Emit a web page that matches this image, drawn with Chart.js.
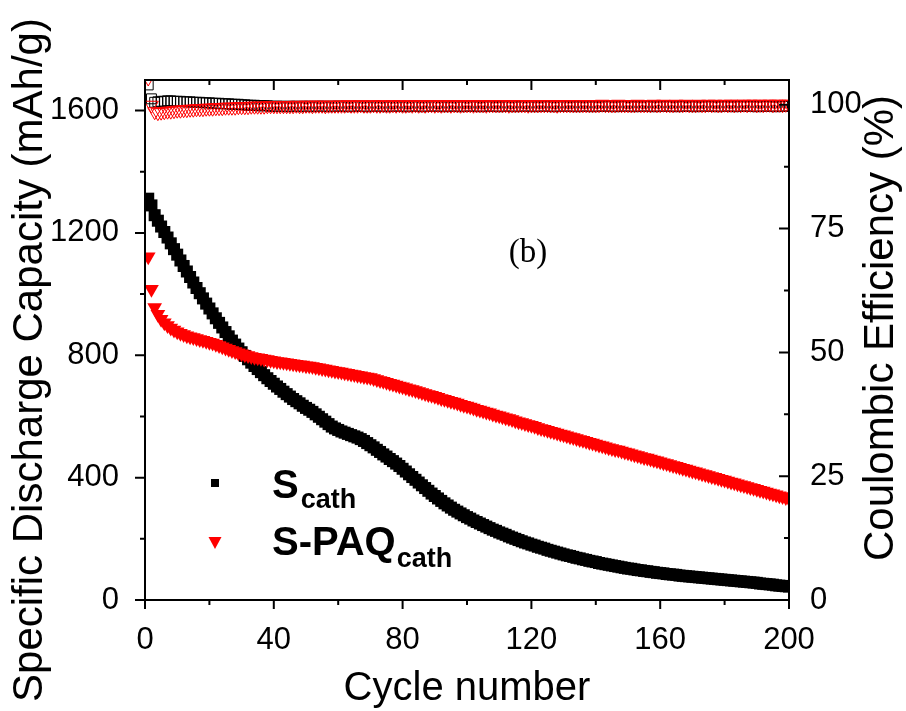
<!DOCTYPE html>
<html>
<head>
<meta charset="utf-8">
<script src="https://cdn.jsdelivr.net/npm/chart.js@4.4.0/dist/chart.umd.min.js"></script>
<style>
  html, body { margin: 0; padding: 0; background: #fff; }
</style>
</head>
<body>
<canvas id="capChart" width="906" height="711"></canvas>
<script>
// cycle numbers (x)
var cycles = Array.from({length: 200}, function (_, i) { return i + 1; });

// discharge capacity, S cathode (mAh/g)
var sCathCap = [
  1312, 1290, 1258, 1240, 1221, 1203, 1185, 1166, 1147, 1129,
  1110, 1092, 1074, 1056, 1038, 1020, 1003, 986, 969, 953,
  937, 921, 906, 891, 876, 862, 848, 835, 822, 810,
  798, 787, 776, 765, 755, 745, 735, 725, 716, 707,
  698, 690, 681, 673, 665, 657, 650, 643, 635, 628,
  622, 615, 607, 599, 591, 583, 575, 567, 561, 556,
  551, 547, 543, 539, 535, 531, 526, 520, 513, 506,
  499, 491, 484, 476, 469, 461, 454, 446, 438, 429,
  420, 411, 402, 393, 384, 375, 366, 357, 348, 340,
  332, 324, 316, 309, 302, 295, 289, 283, 277, 271,
  266, 260, 255, 250, 245, 240, 235, 230, 226, 221,
  217, 213, 208, 204, 200, 196, 192, 188, 185, 181,
  178, 174, 171, 168, 164, 161, 158, 155, 152, 149,
  146, 144, 141, 138, 136, 133, 131, 128, 126, 124,
  121, 119, 117, 115, 113, 111, 109, 107, 105, 103,
  102, 100, 98, 97, 95, 94, 92, 91, 89, 88,
  87, 85, 84, 83, 82, 80, 79, 78, 77, 76,
  75, 74, 73, 72, 71, 70, 69, 68, 67, 66,
  65, 64, 63, 62, 61, 60, 59, 58, 57, 56,
  54, 53, 52, 51, 50, 48, 47, 46, 45, 44
];

// discharge capacity, S-PAQ cathode (mAh/g)
var spaqCap = [
  1122, 1016, 956, 934, 918, 906, 897, 889, 883, 877,
  872, 868, 864, 861, 858, 855, 852, 849, 846, 843,
  840, 836, 832, 828, 824, 820, 816, 812, 808, 805,
  802, 799, 796, 794, 792, 790, 788, 786, 784, 782,
  780, 779, 777, 776, 774, 772, 771, 769, 768, 766,
  765, 763, 761, 759, 757, 755, 753, 751, 749, 747,
  745, 743, 741, 739, 737, 735, 733, 731, 729, 727,
  724, 721, 718, 715, 712, 709, 706, 703, 700, 697,
  694, 691, 688, 685, 682, 678, 675, 672, 669, 666,
  663, 659, 656, 653, 650, 647, 644, 640, 637, 634,
  631, 628, 624, 621, 618, 615, 612, 608, 605, 602,
  599, 596, 593, 590, 586, 583, 580, 577, 574, 571,
  568, 564, 561, 558, 555, 552, 549, 546, 543, 540,
  537, 534, 531, 528, 525, 522, 519, 516, 513, 510,
  507, 504, 501, 498, 495, 492, 490, 487, 484, 481,
  478, 475, 472, 469, 466, 464, 461, 458, 455, 452,
  449, 446, 443, 440, 437, 434, 431, 428, 425, 422,
  419, 416, 413, 410, 407, 404, 401, 398, 395, 392,
  389, 386, 383, 380, 377, 374, 371, 368, 365, 362,
  359, 356, 353, 350, 347, 344, 341, 338, 335, 332
];

// coulombic efficiency, S cathode (%)
var sCathCE = [
  104.0, 101.2, 100.5, 100.6, 100.7, 100.7, 100.8, 100.8, 100.7, 100.7,
  100.7, 100.6, 100.6, 100.6, 100.5, 100.5, 100.5, 100.4, 100.4, 100.4,
  100.3, 100.3, 100.3, 100.2, 100.2, 100.2, 100.1, 100.1, 100.1, 100.0,
  100.0, 99.9, 99.9, 99.9, 99.8, 99.8, 99.8, 99.8, 99.7, 99.7,
  99.7, 99.7, 99.7, 99.6, 99.7, 99.7, 99.7, 99.6, 99.7, 99.7,
  99.7, 99.6, 99.7, 99.7, 99.7, 99.7, 99.6, 99.7, 99.7, 99.7,
  99.7, 99.7, 99.6, 99.7, 99.7, 99.7, 99.7, 99.7, 99.6, 99.7,
  99.7, 99.7, 99.7, 99.7, 99.6, 99.7, 99.7, 99.7, 99.7, 99.7,
  99.6, 99.7, 99.7, 99.7, 99.7, 99.6, 99.7, 99.7, 99.7, 99.7,
  99.7, 99.7, 99.6, 99.7, 99.7, 99.7, 99.7, 99.6, 99.7, 99.7,
  99.7, 99.7, 99.7, 99.6, 99.7, 99.7, 99.7, 99.7, 99.7, 99.6,
  99.7, 99.7, 99.7, 99.7, 99.6, 99.7, 99.7, 99.7, 99.7, 99.7,
  99.6, 99.7, 99.7, 99.7, 99.7, 99.7, 99.6, 99.7, 99.7, 99.7,
  99.7, 99.7, 99.7, 99.6, 99.7, 99.7, 99.7, 99.7, 99.6, 99.7,
  99.7, 99.7, 99.7, 99.7, 99.7, 99.6, 99.7, 99.7, 99.7, 99.7,
  99.7, 99.6, 99.7, 99.7, 99.7, 99.7, 99.7, 99.6, 99.7, 99.7,
  99.7, 99.7, 99.7, 99.7, 99.6, 99.7, 99.7, 99.7, 99.7, 99.7,
  99.6, 99.7, 99.7, 99.7, 99.7, 99.7, 99.7, 99.6, 99.7, 99.7,
  99.7, 99.7, 99.6, 99.7, 99.7, 99.7, 99.7, 99.7, 99.7, 99.6,
  99.7, 99.7, 99.7, 99.7, 99.7, 99.6, 99.7, 99.7, 99.7, 99.7
];

// coulombic efficiency, S-PAQ cathode (%)
var spaqCE = [
  105.4, 99.9, 98.6, 98.4, 98.5, 98.6, 98.7, 98.7, 98.8, 98.9,
  98.9, 99.0, 99.0, 99.1, 99.1, 99.2, 99.2, 99.2, 99.3, 99.3,
  99.3, 99.4, 99.4, 99.4, 99.5, 99.5, 99.5, 99.5, 99.6, 99.6,
  99.6, 99.6, 99.7, 99.7, 99.7, 99.7, 99.7, 99.8, 99.8, 99.8,
  99.8, 99.8, 99.8, 99.8, 99.8, 99.8, 99.9, 99.8, 99.8, 99.9,
  99.9, 99.8, 99.9, 99.9, 99.9, 99.8, 99.9, 99.9, 99.9, 99.9,
  99.9, 99.9, 100.0, 99.9, 99.9, 99.9, 100.0, 99.9, 99.9, 99.9,
  100.0, 99.9, 99.9, 100.0, 99.9, 99.9, 100.0, 99.9, 100.0, 99.9,
  99.9, 100.0, 99.9, 100.0, 99.9, 100.0, 99.9, 100.0, 100.0, 99.9,
  100.0, 99.9, 100.0, 100.0, 99.9, 100.0, 100.0, 99.9, 100.0, 100.0,
  100.0, 99.9, 100.0, 100.0, 100.0, 99.9, 100.0, 100.0, 100.0, 100.0,
  100.0, 100.0, 99.9, 100.0, 100.0, 100.0, 100.0, 100.0, 99.9, 100.0,
  100.0, 100.0, 100.0, 100.0, 100.0, 100.0, 100.0, 99.9, 100.0, 100.0,
  100.0, 100.0, 100.0, 100.0, 100.0, 100.0, 100.0, 100.0, 100.0, 100.0,
  100.0, 100.1, 100.0, 100.0, 100.0, 100.0, 100.1, 100.0, 100.0, 100.0,
  100.0, 100.0, 100.1, 100.0, 100.0, 100.0, 100.0, 100.1, 100.0, 100.0,
  100.1, 100.0, 100.0, 100.0, 100.1, 100.0, 100.0, 100.1, 100.0, 100.0,
  100.0, 100.1, 100.0, 100.0, 100.1, 100.0, 100.1, 100.0, 100.0, 100.1,
  100.0, 100.1, 100.0, 100.1, 100.0, 100.1, 100.0, 100.1, 100.1, 100.0,
  100.1, 100.0, 100.1, 100.1, 100.0, 100.1, 100.1, 100.0, 100.1, 100.1
];

// tick labels
var xTicks = [0, 40, 80, 120, 160, 200];
var capTicks = [0, 400, 800, 1200, 1600];
var ceTicks = [0, 25, 50, 75, 100];

var SANS = '"Liberation Sans", Arial, sans-serif';
var SERIF = '"Liberation Serif", "Times New Roman", serif';

function pts(ys) {
  return cycles.map(function (c, i) { return {x: c, y: ys[i]}; });
}
function midpoints(arr) {
  var out = [];
  for (var i = 0; i < arr.length - 1; i++) out.push((arr[i] + arr[i + 1]) / 2);
  return out;
}
function fixTicks(list) {
  return function (scale) { scale.ticks = list.map(function (v) { return {value: v}; }); };
}
function plain(v) { return String(v); }

// frame, tick marks, titles, legend, panel label
var decorPlugin = {
  id: 'decor',
  afterDraw: function (chart) {
    var ctx = chart.ctx;
    var a = chart.chartArea;
    var sx = chart.scales.x, sl = chart.scales.yCap, sr = chart.scales.yCE;
    ctx.save();
    ctx.strokeStyle = '#000';
    ctx.fillStyle = '#000';
    ctx.lineWidth = 2;
    ctx.strokeRect(a.left, a.top, a.right - a.left, a.bottom - a.top);

    ctx.beginPath();
    xTicks.forEach(function (v) {
      var p = sx.getPixelForValue(v);
      ctx.moveTo(p, a.bottom); ctx.lineTo(p, a.bottom + 9);
      ctx.moveTo(p, a.top); ctx.lineTo(p, a.top + 10);
    });
    midpoints(xTicks).forEach(function (v) {
      var p = sx.getPixelForValue(v);
      ctx.moveTo(p, a.bottom); ctx.lineTo(p, a.bottom + 5);
      ctx.moveTo(p, a.top); ctx.lineTo(p, a.top + 5);
    });
    capTicks.forEach(function (v) {
      var p = sl.getPixelForValue(v);
      ctx.moveTo(a.left - 10, p); ctx.lineTo(a.left, p);
    });
    midpoints(capTicks).forEach(function (v) {
      var p = sl.getPixelForValue(v);
      ctx.moveTo(a.left - 5, p); ctx.lineTo(a.left, p);
    });
    ceTicks.forEach(function (v) {
      var p = sr.getPixelForValue(v);
      ctx.moveTo(a.right - 10, p); ctx.lineTo(a.right, p);
    });
    midpoints(ceTicks).forEach(function (v) {
      var p = sr.getPixelForValue(v);
      ctx.moveTo(a.right - 5, p); ctx.lineTo(a.right, p);
    });
    ctx.stroke();

    // axis titles
    ctx.textAlign = 'center';
    ctx.textBaseline = 'alphabetic';
    ctx.font = '42px ' + SANS;
    ctx.save();
    ctx.translate(42, 360);
    ctx.rotate(-Math.PI / 2);
    ctx.fillText('Specific Discharge Capacity (mAh/g)', 0, 0);
    ctx.restore();
    ctx.save();
    ctx.translate(893, 328);
    ctx.rotate(-Math.PI / 2);
    ctx.fillText('Coulombic Efficiency (%)', 0, 0);
    ctx.restore();
    ctx.font = '40px ' + SANS;
    ctx.fillText('Cycle number', (a.left + a.right) / 2, 700);

    // panel label
    ctx.font = '33px ' + SERIF;
    ctx.fillText('(b)', 528, 262);

    // legend
    ctx.textAlign = 'left';
    ctx.fillStyle = '#000';
    ctx.fillRect(211, 479, 8, 8);
    ctx.fillStyle = '#ff0000';
    ctx.beginPath();
    ctx.moveTo(208.5, 537); ctx.lineTo(221.5, 537); ctx.lineTo(215, 549);
    ctx.closePath();
    ctx.fill();

    ctx.fillStyle = '#000';
    ctx.font = 'bold 40px ' + SANS;
    ctx.fillText('S', 272, 498);
    var w1 = ctx.measureText('S').width;
    ctx.fillText('S-PAQ', 272, 555);
    var w2 = ctx.measureText('S-PAQ').width;
    ctx.font = 'bold 27px ' + SANS;
    ctx.fillText('cath', 272 + w1 + 2, 508);
    ctx.fillText('cath', 272 + w2 + 1, 567);
    ctx.restore();
  }
};

var ctx = document.getElementById('capChart').getContext('2d');
var capChart = new Chart(ctx, {
  type: 'scatter',
  data: {
    datasets: [
      {
        label: 'S-PAQ cath capacity',
        data: pts(spaqCap),
        yAxisID: 'yCap',
        pointStyle: 'triangle',
        rotation: 180,
        pointRadius: 8.5,
        backgroundColor: '#ff0000',
        borderColor: '#ff0000',
        borderWidth: 0,
        clip: 0
      },
      {
        label: 'S cath capacity',
        data: pts(sCathCap),
        yAxisID: 'yCap',
        pointStyle: 'rect',
        pointRadius: 8.5,
        backgroundColor: '#000',
        borderColor: '#000',
        borderWidth: 0,
        clip: 0
      },
      {
        label: 'S-PAQ cath CE',
        data: pts(spaqCE),
        yAxisID: 'yCE',
        pointStyle: 'triangle',
        rotation: 180,
        pointRadius: 8,
        backgroundColor: 'rgba(0,0,0,0)',
        borderColor: '#ff0000',
        borderWidth: 1,
        clip: 0
      },
      {
        label: 'S cath CE',
        data: pts(sCathCE),
        yAxisID: 'yCE',
        pointStyle: 'rect',
        pointRadius: 7,
        backgroundColor: 'rgba(0,0,0,0)',
        borderColor: '#000',
        borderWidth: 1,
        clip: 0
      }
    ]
  },
  options: {
    responsive: false,
    animation: false,
    devicePixelRatio: 1,
    layout: { padding: { top: 80, left: 0, right: 0, bottom: 0 } },
    plugins: { legend: { display: false }, tooltip: { enabled: false } },
    scales: {
      x: {
        type: 'linear',
        position: 'bottom',
        min: 0, max: 200,
        grid: { display: false },
        border: { display: false },
        afterBuildTicks: fixTicks(xTicks),
        afterFit: function (s) { s.height = 111; },
        ticks: { color: '#000', font: { family: SANS, size: 31 }, padding: 14, maxRotation: 0, callback: plain }
      },
      yCap: {
        type: 'linear',
        position: 'left',
        min: 0, max: 1700,
        grid: { display: false },
        border: { display: false },
        afterBuildTicks: fixTicks(capTicks),
        afterFit: function (s) { s.width = 145; },
        ticks: { color: '#000', font: { family: SANS, size: 31 }, padding: 18, callback: plain }
      },
      yCE: {
        type: 'linear',
        position: 'right',
        min: 0, max: 105,
        grid: { display: false },
        border: { display: false },
        afterBuildTicks: fixTicks(ceTicks),
        afterFit: function (s) { s.width = 117; },
        ticks: { color: '#000', font: { family: SANS, size: 31 }, padding: 13, callback: plain }
      }
    }
  },
  plugins: [decorPlugin]
});
</script>
</body>
</html>
